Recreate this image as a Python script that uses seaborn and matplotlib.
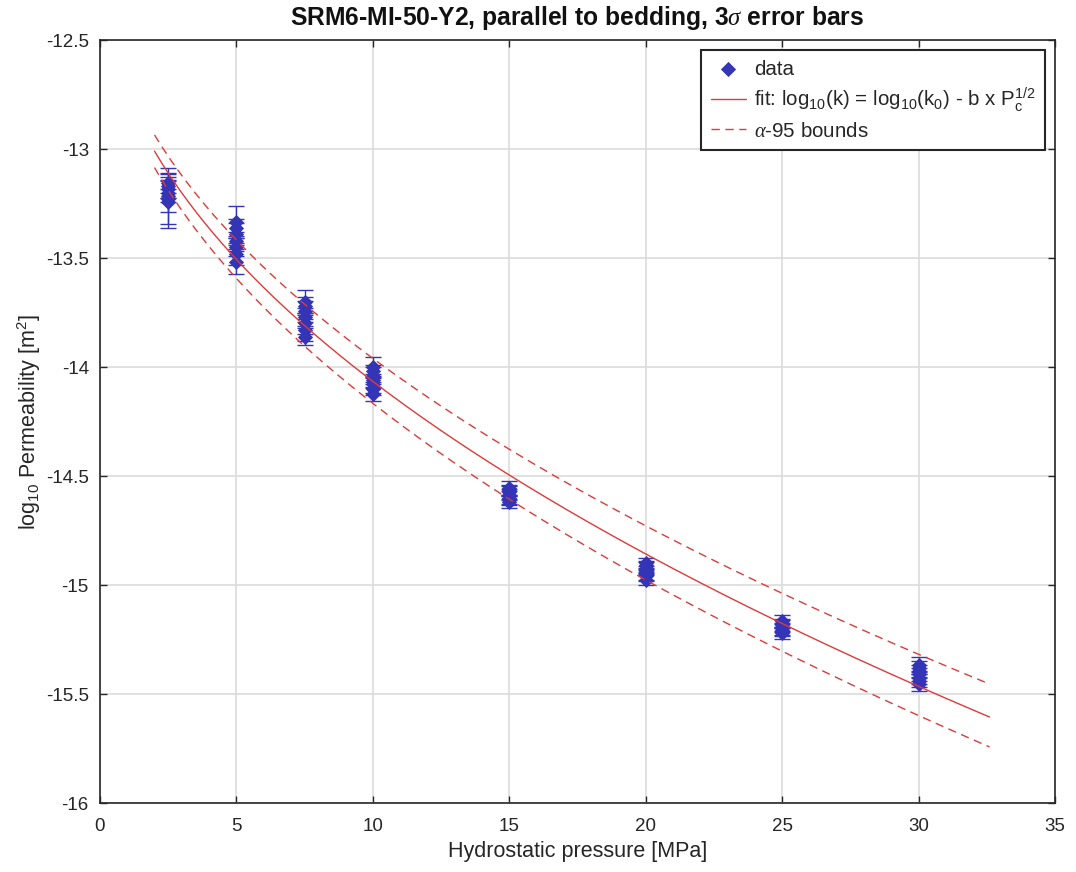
import numpy as np
import pandas as pd
import matplotlib
matplotlib.use("Agg")
import matplotlib.pyplot as plt
import seaborn as sns
from matplotlib.ticker import FuncFormatter

# ---------------- data ----------------
p25 = [-13.155, -13.17, -13.185, -13.20, -13.215, -13.23, -13.245]
e25 = [0.068, 0.03, 0.04, 0.089, 0.03, 0.114, 0.117]
p50 = [-13.335, -13.36, -13.39, -13.42, -13.45, -13.48, -13.52]
e50 = [0.074, 0.04, 0.05, 0.04, 0.04, 0.05, 0.053]
p75 = [-13.70, -13.72, -13.745, -13.77, -13.80, -13.83, -13.86]
e75 = [0.053, 0.04, 0.05, 0.04, 0.05, 0.05, 0.039]
p100 = [-14.00, -14.02, -14.04, -14.06, -14.08, -14.10, -14.125]
e100 = [0.046, 0.03, 0.04, 0.03, 0.04, 0.03, 0.031]
p150 = [-14.555, -14.565, -14.575, -14.585, -14.60, -14.61, -14.62]
e150 = [0.032, 0.025, 0.03, 0.025, 0.03, 0.025, 0.027]
p200 = [-14.90, -14.91, -14.92, -14.935, -14.95, -14.96, -14.975]
e200 = [0.024, 0.02, 0.025, 0.02, 0.025, 0.02, 0.025]
p250 = [-15.165, -15.175, -15.185, -15.195, -15.205, -15.215, -15.22]
e250 = [0.027, 0.02, 0.025, 0.02, 0.025, 0.02, 0.028]
p300 = [-15.365, -15.38, -15.395, -15.41, -15.425, -15.44, -15.455]
e300 = [0.035, 0.03, 0.03, 0.03, 0.03, 0.03, 0.031]

pressures = [2.5, 5, 7.5, 10, 15, 20, 25, 30]
logk_groups = [p25, p50, p75, p100, p150, p200, p250, p300]
err_groups = [e25, e50, e75, e100, e150, e200, e250, e300]

# fit model log10(k) = a - b * sqrt(Pc) and alpha-95 bounds
fit_a, fit_b = -12.155, 0.6043
up_a, up_b = -12.106, 0.5864
lo_a, lo_b = -12.210, 0.6187
fit_range = (2.0, 32.6)

xticks = [0, 5, 10, 15, 20, 25, 30, 35]
yticks = [-16, -15.5, -15, -14.5, -14, -13.5, -13, -12.5]

title = "SRM6-MI-50-Y2, parallel to bedding, 3$\\mathit{\\sigma}$ error bars"
xlabel = "Hydrostatic pressure [MPa]"
ylabel = "log$_{10}$ Permeability [m$^2$]"
lbl_data = "data"
lbl_fit = "fit: log$_{10}$(k) = log$_{10}$(k$_0$) - b x P$_c^{1/2}$"
lbl_bounds = "$\\mathit{\\alpha}$-95 bounds"

# ---------------- build tables ----------------
rows = []
for P, vals, errs in zip(pressures, logk_groups, err_groups):
    for v, e in zip(vals, errs):
        rows.append({"pressure": P, "logk": v, "err": e})
df = pd.DataFrame(rows)

xf = np.linspace(fit_range[0], fit_range[1], 200)
fit_df = pd.DataFrame({
    "P": xf,
    "fit": fit_a - fit_b * np.sqrt(xf),
    "upper": up_a - up_b * np.sqrt(xf),
    "lower": lo_a - lo_b * np.sqrt(xf),
})

# ---------------- style ----------------
sns.set_theme(style="ticks")
plt.rcParams["font.family"] = ["Liberation Sans", "DejaVu Sans"]
plt.rcParams["mathtext.fontset"] = "custom"
plt.rcParams["mathtext.rm"] = "Liberation Sans"
plt.rcParams["mathtext.it"] = "Liberation Serif:italic"
plt.rcParams["mathtext.bf"] = "Liberation Sans:bold"
plt.rcParams["mathtext.default"] = "regular"

BLUE = "#3434b6"
RED = "#e03a3a"
DARK = "#262626"

fig = plt.figure(figsize=(10.76, 8.72), dpi=100)
ax = fig.add_axes([0.0929, 0.0791, 0.9805 - 0.0929, 0.9541 - 0.0791])

ax.errorbar(df["pressure"], df["logk"], yerr=df["err"], fmt="none",
            ecolor=BLUE, elinewidth=1.0, capsize=5.5, capthick=1.0, zorder=3)
sns.scatterplot(data=df, x="pressure", y="logk", marker="D", s=60,
                color=BLUE, edgecolor=BLUE, linewidth=0, ax=ax,
                label=lbl_data, zorder=4)
sns.lineplot(data=fit_df, x="P", y="fit", color=RED, linewidth=1.0,
             ax=ax, label=lbl_fit, zorder=5)
sns.lineplot(data=fit_df, x="P", y="upper", color=RED, linewidth=1.0,
             linestyle=(0, (6, 4)), ax=ax, label=lbl_bounds, zorder=5)
sns.lineplot(data=fit_df, x="P", y="lower", color=RED, linewidth=1.0,
             linestyle=(0, (6, 4)), ax=ax, zorder=5)

ax.set_xlim(0, 35)
ax.set_ylim(-16, -12.5)
ax.set_xticks(xticks)
ax.set_yticks(yticks)
fmt = FuncFormatter(lambda v, pos: "%g" % v)
ax.xaxis.set_major_formatter(fmt)
ax.yaxis.set_major_formatter(fmt)

ax.grid(True, color="#dcdcdc", linewidth=1.2)
ax.set_axisbelow(True)
for s in ax.spines.values():
    s.set_color(DARK)
    s.set_linewidth(1.2)
ax.tick_params(direction="in", top=True, right=True, length=5, width=1,
               colors=DARK, labelsize=13.5, labelcolor=DARK)
ax.tick_params(axis="x", pad=11)
ax.tick_params(axis="y", pad=8)

ax.set_title(title, fontsize=17.7, fontweight="bold", color="#111111", pad=11)
ax.set_xlabel(xlabel, fontsize=15.5, color=DARK, labelpad=4)
ax.set_ylabel(ylabel, fontsize=15.5, color=DARK, labelpad=2)

handles, labels = ax.get_legend_handles_labels()
leg = ax.legend(handles, labels, loc="upper right", fontsize=14.8,
                frameon=True, fancybox=False, framealpha=1,
                edgecolor=DARK, handlelength=1.7, handletextpad=0.4,
                borderaxespad=0.5, labelspacing=0.35, borderpad=0.45)
leg.get_frame().set_linewidth(1.5)

fig.savefig("out.png", dpi=100)
